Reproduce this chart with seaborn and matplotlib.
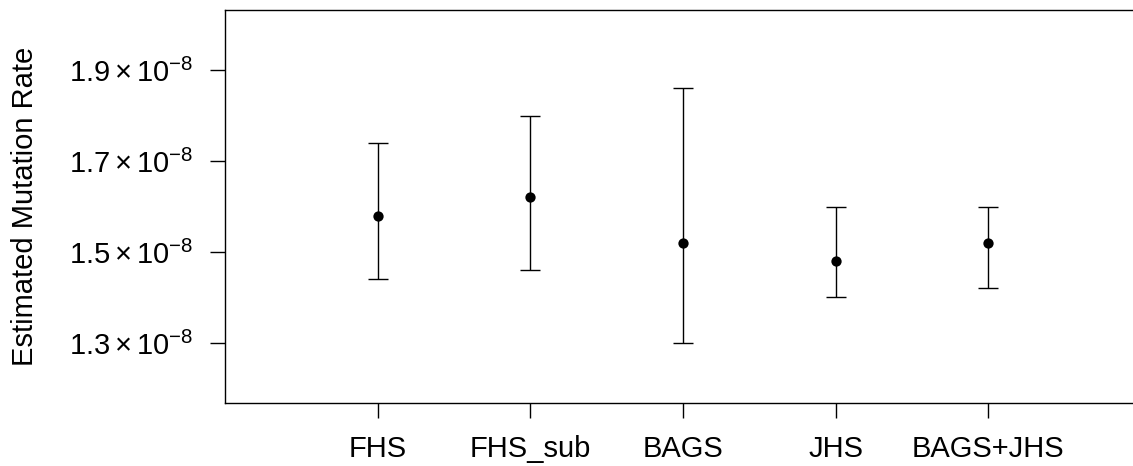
import matplotlib
matplotlib.use("Agg")
import matplotlib.pyplot as plt
import seaborn as sns
import pandas as pd

# Estimated mutation rates (x 1e-8) with interval bounds per cohort
cohorts = ["FHS", "FHS_sub", "BAGS", "JHS", "BAGS+JHS"]
estimate = [1.58, 1.62, 1.52, 1.48, 1.52]
lower = [1.44, 1.46, 1.30, 1.40, 1.42]
upper = [1.74, 1.80, 1.86, 1.60, 1.60]
ytick_vals = [1.3, 1.5, 1.7, 1.9]

scale = 1e-8
df = pd.DataFrame({
    "pos": list(range(1, len(cohorts) + 1)),
    "cohort": cohorts,
    "rate": [v * scale for v in estimate],
    "lo": [v * scale for v in lower],
    "hi": [v * scale for v in upper],
})

sns.set_theme(style="white")
plt.rcParams["font.family"] = ["Liberation Sans", "DejaVu Sans"]
plt.rcParams["mathtext.fontset"] = "custom"
plt.rcParams["mathtext.rm"] = "Liberation Sans"
plt.rcParams["mathtext.it"] = "Liberation Sans:italic"
plt.rcParams["mathtext.bf"] = "Liberation Sans:bold"

fs = 21
W, H = 1133, 466
ax_w = 1141 - 225
fig = plt.figure(figsize=(W / 100, H / 100), dpi=100)
ax = fig.add_axes([225 / W, 63 / H, ax_w / W, (403 - 10) / H])

ax.errorbar(df["pos"], df["rate"],
            yerr=[df["rate"] - df["lo"], df["hi"] - df["rate"]],
            fmt="none", ecolor="black", elinewidth=1.0, capsize=7.5,
            capthick=1.0, zorder=2)
sns.scatterplot(data=df, x="pos", y="rate", ax=ax, color="black", s=55,
                edgecolor="black", linewidth=0, zorder=3, legend=False)

ax.set_xlim(0, 6)
ax.set_ylim(1.168 * scale, 2.032 * scale)

ax.set_xticks(df["pos"])
ax.set_xticklabels(cohorts, fontsize=fs)
ax.set_yticks([v * scale for v in ytick_vals])
ax.set_yticklabels([r"$%.1f\times10^{-8}$" % v for v in ytick_vals], fontsize=fs)

ax.tick_params(axis="both", which="both", direction="out", length=11,
               width=1.0, color="black", left=True, bottom=True, pad=12,
               labelcolor="black")
ax.set_xlabel("")
ax.set_ylabel("Estimated Mutation Rate", fontsize=fs, color="black")
ax.yaxis.set_label_coords((39 - 225) / ax_w, 0.5)

for name, sp in ax.spines.items():
    sp.set_visible(name != "right")
    sp.set_color("black")
    sp.set_linewidth(1.0)
ax.grid(False)

fig.savefig("out.png", dpi=100, facecolor="white")
